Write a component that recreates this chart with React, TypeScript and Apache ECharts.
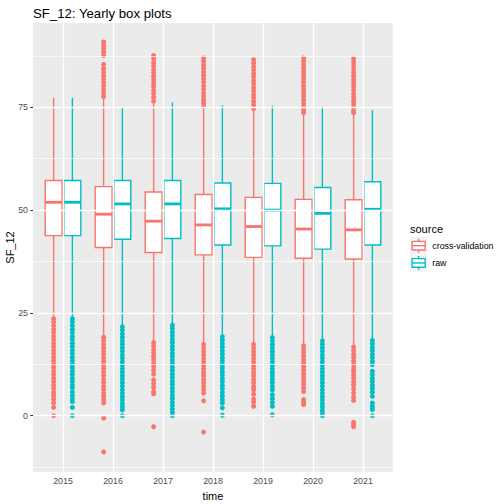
import React, { useEffect, useRef } from "react";
import * as echarts from "echarts";

// ---- Data ----
const years = ["2015", "2016", "2017", "2018", "2019", "2020", "2021"];
const sources = ["cross-validation", "raw"];

// cross-validation box statistics per year
const cvLow = [23.8, 19.3, 18.0, 17.5, 17.4, 17.1, 16.8];
const cvQ1 = [43.8, 40.9, 39.7, 39.1, 38.5, 38.3, 38.1];
const cvMed = [51.9, 49.0, 47.3, 46.4, 46.0, 45.4, 45.2];
const cvQ3 = [57.2, 55.7, 54.4, 53.8, 53.1, 52.6, 52.5];
const cvHigh = [77.3, 77.3, 76.2, 75.2, 74.3, 73.6, 73.6];

// raw box statistics per year
const rawLow = [23.8, 21.7, 22.1, 19.3, 19.1, 18.3, 18.4];
const rawQ1 = [43.8, 42.9, 43.1, 41.5, 41.3, 40.5, 41.5];
const rawMed = [51.9, 51.5, 51.5, 50.3, 50.0, 49.2, 50.2];
const rawQ3 = [57.2, 57.2, 57.2, 56.6, 56.5, 55.5, 56.9];
const rawHigh = [77.3, 75.1, 76.2, 75.5, 75.4, 75.2, 74.3];

// outliers, cross-validation
const cvOut2015 = [23.6, 22.8, 21.9, 21.0, 20.2, 19.3, 18.5, 17.6, 16.8, 15.9, 15.1, 14.2, 13.4, 12.5, 11.7, 10.8, 10.0, 9.1, 8.3, 7.4, 6.6, 5.7, 4.9, 4.0, 3.1, 2.0, 0];
const cvOut2016 = [90.9, 90.1, 89.3, 88.5, 87.6, 85.4, 84.4, 83.6, 82.7, 81.9, 81.0, 80.2, 79.3, 78.5, 77.6, 19.1, 18.3, 17.4, 16.6, 15.7, 14.9, 14.0, 13.2, 12.3, 11.5, 10.6, 9.8, 8.9, 8.1, 7.2, 6.4, 5.5, 4.7, 3.9, 3.1, -0.6, -8.8];
const cvOut2017 = [87.6, 86.8, 85.9, 85.1, 84.2, 83.4, 82.5, 81.7, 80.8, 80.0, 79.1, 78.3, 77.4, 76.5, 17.8, 17.0, 16.1, 15.3, 14.4, 13.6, 12.7, 11.9, 11.0, 10.1, 8.7, 7.8, 6.9, 5.9, 5.3, -2.7];
const cvOut2018 = [87.0, 86.2, 85.3, 84.5, 83.6, 82.8, 81.9, 81.1, 80.2, 79.4, 78.5, 77.7, 76.8, 76.0, 75.3, 17.3, 16.5, 15.6, 14.8, 13.9, 13.1, 12.2, 11.4, 10.5, 9.7, 8.8, 8.0, 7.1, 6.3, 5.5, 3.6, -4.0];
const cvOut2019 = [86.6, 85.8, 84.9, 84.1, 83.2, 82.4, 81.5, 80.7, 79.8, 79.0, 78.1, 77.3, 76.4, 75.6, 74.7, 17.3, 16.5, 15.6, 14.8, 13.9, 13.1, 12.2, 11.4, 10.5, 9.7, 8.8, 8.0, 7.1, 6.3, 5.2, 4.0, 3.3, 2.3];
const cvOut2020 = [87.0, 86.2, 85.3, 84.5, 83.6, 82.8, 81.9, 81.1, 80.2, 79.4, 78.5, 77.7, 76.8, 76.0, 75.1, 74.3, 73.7, 17.0, 16.2, 15.3, 14.5, 13.6, 12.8, 11.9, 11.1, 10.2, 9.4, 8.5, 7.7, 6.8, 5.9, 3.9, 3.2, 2.7];
const cvOut2021 = [86.8, 86.0, 85.1, 84.3, 83.4, 82.6, 81.7, 80.9, 80.0, 79.2, 78.3, 77.5, 76.6, 75.8, 74.9, 74.1, 73.7, 16.7, 15.9, 15.0, 14.2, 13.3, 12.5, 11.6, 10.8, 9.9, 9.1, 8.2, 7.4, 6.5, 5.5, 4.5, 3.7, -1.6, -2.2, -2.7];

// outliers, raw
const rawOut2015 = [23.6, 22.8, 21.9, 21.0, 20.2, 19.3, 18.5, 17.6, 16.8, 15.9, 15.1, 14.2, 13.4, 12.5, 11.7, 10.8, 10.0, 9.1, 8.3, 7.5, 6.8, 5.8, 4.9, 4.1, 3.4, 2.0, 0];
const rawOut2016 = [21.6, 20.8, 19.9, 19.1, 18.2, 17.4, 16.5, 15.7, 14.8, 14.0, 13.1, 12.3, 11.4, 10.6, 9.7, 8.9, 8.0, 7.2, 6.3, 5.5, 4.6, 3.8, 2.9, 2.1, 1.4, 0];
const rawOut2017 = [22.0, 21.2, 20.3, 19.5, 18.6, 17.8, 16.9, 16.1, 15.2, 14.4, 13.5, 12.7, 11.8, 11.0, 10.1, 9.3, 8.4, 7.6, 6.7, 5.9, 5.0, 4.2, 3.3, 2.5, 1.6, 0.8, 0];
const rawOut2018 = [19.2, 18.4, 17.5, 16.7, 15.8, 15.0, 14.1, 13.3, 12.4, 11.6, 10.7, 9.9, 9.0, 8.2, 7.3, 6.5, 5.6, 4.8, 3.9, 3.1, 1.9, 0.1];
const rawOut2019 = [19.0, 18.2, 17.3, 16.5, 15.6, 14.8, 13.9, 13.1, 12.2, 11.4, 10.5, 9.7, 8.8, 8.0, 7.1, 6.3, 5.1, 4.2, 3.2, 2.3, 0.2];
const rawOut2020 = [18.2, 17.4, 16.5, 15.7, 14.8, 14.0, 13.1, 12.3, 11.4, 10.6, 9.7, 8.9, 8.0, 7.2, 6.3, 5.5, 4.6, 3.8, 2.9, 2.1, 1.2, 0.4, 0];
const rawOut2021 = [18.3, 17.5, 16.6, 15.8, 14.9, 14.1, 13.2, 12.4, 10.8, 10.0, 9.1, 8.3, 7.4, 6.6, 5.7, 4.7, 3.1, 2.3, 1.5, 0];

const cvOutliers = [cvOut2015, cvOut2016, cvOut2017, cvOut2018, cvOut2019, cvOut2020, cvOut2021];
const rawOutliers = [rawOut2015, rawOut2016, rawOut2017, rawOut2018, rawOut2019, rawOut2020, rawOut2021];

const yTicks = [0, 25, 50, 75];
const yMinorTicks = [-12.5, 12.5, 37.5, 62.5, 87.5];
const yMin = -13.7;
const yMax = 95.5;

// ---- Style ----
const COLORS = ["#F8766D", "#00BFC4"];
const FONT = "'Liberation Sans', Arial, Helvetica, sans-serif";
const DODGE = 0.1875; // half of dodge spacing, in x units
const BOX_W = 0.3375; // box width, in x units

function buildBoxRows(low: number[], q1: number[], med: number[], q3: number[], high: number[]) {
  return years.map((_, i) => [i + 1, low[i], q1[i], med[i], q3[i], high[i]]);
}

function buildOutlierRows(lists: number[][], offset: number) {
  const rows: number[][] = [];
  lists.forEach((vals, i) => vals.forEach((v) => rows.push([i + 1 + offset, v])));
  return rows;
}

function makeBoxSeries(name: string, rows: number[][], color: string, offset: number) {
  return {
    type: "custom",
    name,
    z: 3,
    silent: true,
    clip: false,
    encode: { x: 0, y: [1, 2, 3, 4, 5] },
    data: rows,
    renderItem: (params: any, api: any) => {
      const x = api.value(0) + offset;
      const low = api.coord([x, api.value(1)]);
      const q1 = api.coord([x, api.value(2)]);
      const med = api.coord([x, api.value(3)]);
      const q3 = api.coord([x, api.value(4)]);
      const high = api.coord([x, api.value(5)]);
      const w = api.size([BOX_W, 0])[0];
      const cx = low[0];
      const lw = 1.4;
      return {
        type: "group",
        children: [
          { type: "line", shape: { x1: cx, y1: high[1], x2: cx, y2: q3[1] }, style: { stroke: color, lineWidth: lw } },
          { type: "line", shape: { x1: cx, y1: q1[1], x2: cx, y2: low[1] }, style: { stroke: color, lineWidth: lw } },
          {
            type: "rect",
            shape: { x: cx - w / 2, y: q3[1], width: w, height: q1[1] - q3[1] },
            style: { fill: "#FFFFFF", stroke: color, lineWidth: lw },
          },
          { type: "line", shape: { x1: cx - w / 2, y1: med[1], x2: cx + w / 2, y2: med[1] }, style: { stroke: color, lineWidth: 2.8 } },
        ],
      };
    },
  };
}

function makeOutlierSeries(name: string, rows: number[][], color: string) {
  return {
    type: "scatter",
    name,
    z: 2,
    silent: true,
    symbol: "circle",
    symbolSize: 5,
    itemStyle: { color, opacity: 1 },
    data: rows,
  };
}

// grid lines as markLines of an empty series, driven by tick arrays
function makeGridSeries() {
  const major = { color: "#FFFFFF", width: 1.4, type: "solid" };
  const minor = { color: "#FFFFFF", width: 0.7, type: "solid" };
  return {
    type: "scatter",
    name: "grid",
    z: 1,
    silent: true,
    data: [],
    markLine: {
      silent: true,
      symbol: ["none", "none"],
      label: { show: false },
      animation: false,
      data: [
        ...yMinorTicks.map((v) => ({ yAxis: v, lineStyle: minor })),
        ...yTicks.map((v) => ({ yAxis: v, lineStyle: major })),
        ...years.map((_, i) => ({ xAxis: i + 1, lineStyle: major })),
      ],
    },
  };
}

function legendKey(y: number, color: string, label: string) {
  const kx = 410;
  const ks = 17.3;
  const cx = kx + ks / 2;
  return [
    { type: "rect", shape: { x: kx, y, width: ks, height: ks }, style: { fill: "#F2F2F2" } },
    { type: "line", shape: { x1: cx, y1: y + ks * 0.1, x2: cx, y2: y + ks * 0.25 }, style: { stroke: color, lineWidth: 1.4 } },
    { type: "line", shape: { x1: cx, y1: y + ks * 0.75, x2: cx, y2: y + ks * 0.9 }, style: { stroke: color, lineWidth: 1.4 } },
    {
      type: "rect",
      shape: { x: kx + ks * 0.125, y: y + ks * 0.25, width: ks * 0.75, height: ks * 0.5 },
      style: { fill: "#FFFFFF", stroke: color, lineWidth: 1.4 },
    },
    { type: "line", shape: { x1: kx + ks * 0.125, y1: y + ks / 2, x2: kx + ks * 0.875, y2: y + ks / 2 }, style: { stroke: color, lineWidth: 1.4 } },
    {
      type: "text",
      x: 432.3,
      y: y + ks / 2,
      style: { text: label, fill: "#000000", font: `8.8px ${FONT}`, verticalAlign: "middle", align: "left" },
    },
  ];
}

export default function App() {
  const ref = useRef<HTMLDivElement>(null);

  useEffect(() => {
    if (!ref.current) return;
    const chart = echarts.init(ref.current, undefined, { renderer: "svg" });

    const xCustom = years.map((_, i) => i + 1);

    const option: any = {
      animation: false,
      backgroundColor: "#FFFFFF",
      textStyle: { fontFamily: FONT },
      title: {
        text: "SF_12: Yearly box plots",
        left: 28,
        top: 2,
        textStyle: { fontFamily: FONT, fontSize: 13.2, fontWeight: "normal", color: "#000000" },
      },
      grid: {
        left: 33,
        right: 111,
        top: 23,
        bottom: 32,
        show: true,
        backgroundColor: "#EBEBEB",
        borderWidth: 0,
        containLabel: false,
        outerBoundsMode: "none",
      },
      xAxis: {
        type: "value",
        min: 0.4,
        max: 7.6,
        scale: true,
        name: "time",
        nameLocation: "middle",
        nameGap: 15,
        nameTextStyle: { fontFamily: FONT, fontSize: 11, color: "#000000" },
        axisLine: { show: false },
        axisTick: { show: true, length: 2.74, customValues: xCustom, lineStyle: { color: "#333333", width: 1.07 } },
        axisLabel: {
          customValues: xCustom,
          color: "#4D4D4D",
          fontSize: 8.8,
          fontFamily: FONT,
          margin: 4.5,
          formatter: (v: number) => (Number.isInteger(v) && years[v - 1] ? years[v - 1] : ""),
        },
        splitLine: { show: false },
      },
      yAxis: {
        type: "value",
        min: yMin,
        max: yMax,
        scale: true,
        axisLine: { show: false },
        axisTick: { show: true, length: 2.74, customValues: yTicks, lineStyle: { color: "#333333", width: 1.07 } },
        axisLabel: {
          customValues: yTicks,
          color: "#4D4D4D",
          fontSize: 8.8,
          fontFamily: FONT,
          margin: 5,
          formatter: (v: number) => (yTicks.includes(v) ? String(v) : ""),
        },
        splitLine: { show: false },
      },
      series: [
        makeGridSeries(),
        makeOutlierSeries(sources[0], buildOutlierRows(cvOutliers, -DODGE), COLORS[0]),
        makeBoxSeries(sources[0], buildBoxRows(cvLow, cvQ1, cvMed, cvQ3, cvHigh), COLORS[0], -DODGE),
        makeOutlierSeries(sources[1], buildOutlierRows(rawOutliers, DODGE), COLORS[1]),
        makeBoxSeries(sources[1], buildBoxRows(rawLow, rawQ1, rawMed, rawQ3, rawHigh), COLORS[1], DODGE),
      ],
      graphic: [
        {
          type: "text",
          x: 10,
          y: 247.5,
          rotation: Math.PI / 2,
          style: { text: "SF_12", fill: "#000000", font: `11px ${FONT}`, verticalAlign: "middle", align: "center" },
        },
        {
          type: "text",
          x: 410,
          y: 229,
          style: { text: "source", fill: "#000000", font: `11px ${FONT}`, verticalAlign: "middle", align: "left" },
        },
        ...legendKey(237, COLORS[0], sources[0]),
        ...legendKey(254.3, COLORS[1], sources[1]),
      ],
    };

    chart.setOption(option);
    return () => chart.dispose();
  }, []);

  return (
    <div
      ref={ref}
      style={{ position: "fixed", left: 0, top: 0, width: 504, height: 504 }}
    />
  );
}
